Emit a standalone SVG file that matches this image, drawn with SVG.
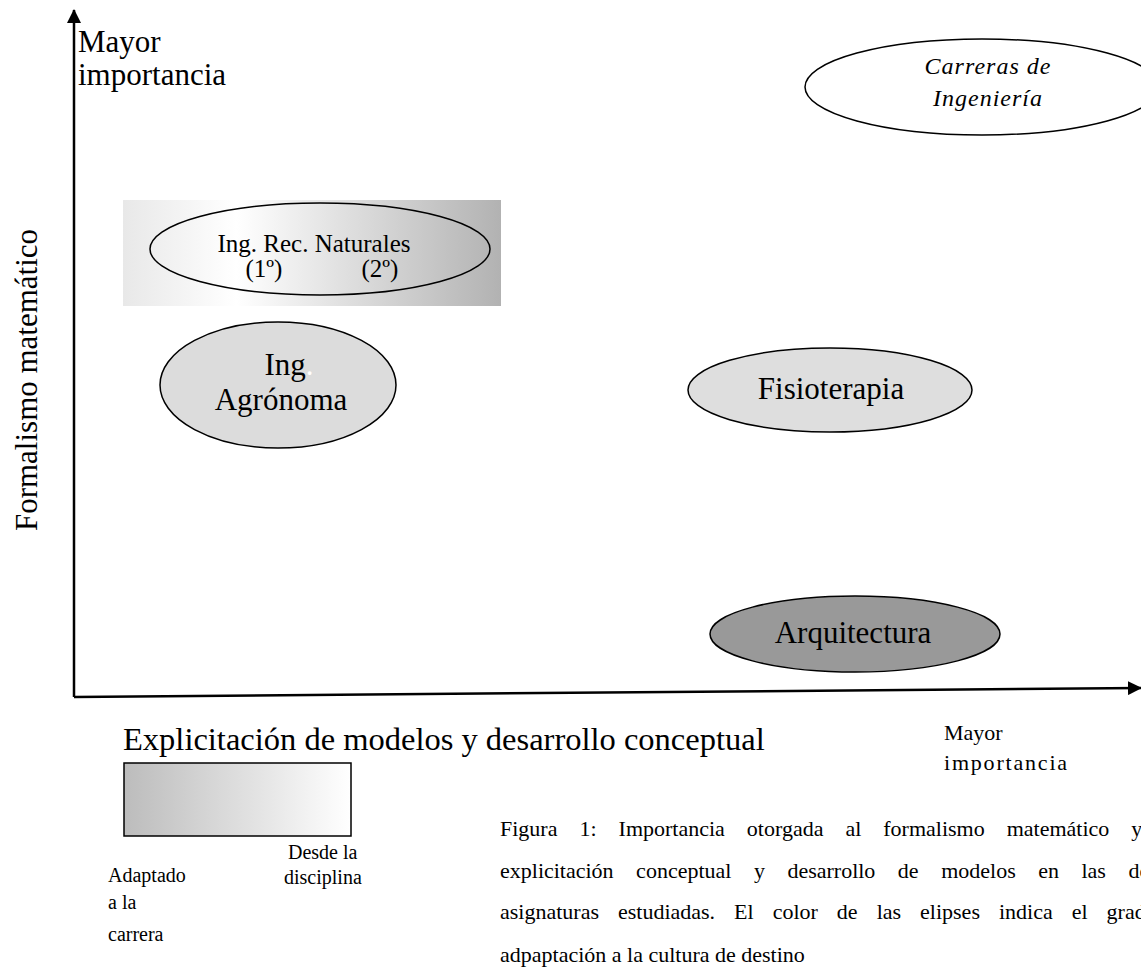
<svg xmlns="http://www.w3.org/2000/svg" width="1141" height="971" viewBox="0 0 1141 971">
<defs>
<style>
text{font-family:"Liberation Serif","Times New Roman",serif;fill:#000}
.ax{stroke:#000;stroke-width:2.5;fill:none}
.el{stroke:#000;stroke-width:1.5}
</style>
<linearGradient id="gNat" x1="0" y1="0" x2="1" y2="0">
<stop offset="0" stop-color="#e8e8e8"/>
<stop offset="0.3" stop-color="#ffffff"/>
<stop offset="1" stop-color="#b2b2b2"/>
</linearGradient>
<linearGradient id="gLeg" x1="0" y1="0" x2="1" y2="0">
<stop offset="0" stop-color="#bcbcbc"/>
<stop offset="1" stop-color="#ffffff"/>
</linearGradient>
<marker id="arr" markerWidth="14" markerHeight="14" refX="13" refY="7" orient="auto" markerUnits="userSpaceOnUse">
<path d="M0,0 L14,7 L0,14 z" fill="#000"/>
</marker>
</defs>
<rect width="1141" height="971" fill="#fff"/>
<g id="connectors">
<line class="ax" x1="74" y1="697" x2="74" y2="10" marker-end="url(#arr)"/>
<line class="ax" x1="74" y1="697" x2="1141" y2="688" marker-end="url(#arr)"/>
</g>
<g id="label-y-top">
<text x="78" y="52" font-size="31">Mayor</text>
<text x="78" y="85" font-size="31">importancia</text>
</g>
<g id="label-y-axis">
<text x="37" y="380" font-size="31" text-anchor="middle" transform="rotate(-90 37 380)">Formalismo matemático</text>
</g>
<g id="node-carreras">
<ellipse class="el" cx="982" cy="87" rx="177" ry="48" fill="#fff"/>
<text x="988" y="74" font-size="24" font-style="italic" letter-spacing="1" text-anchor="middle">Carreras de</text>
<text x="988" y="106" font-size="24" font-style="italic" letter-spacing="1" text-anchor="middle">Ingeniería</text>
</g>
<g id="node-naturales">
<rect x="123" y="200" width="378" height="106" fill="url(#gNat)"/>
<ellipse class="el" cx="320" cy="249" rx="170" ry="46" fill="none"/>
<text x="314" y="252" font-size="25" text-anchor="middle">Ing. Rec. Naturales</text>
<text x="264" y="277" font-size="25" text-anchor="middle">(1º)</text>
<text x="380" y="277" font-size="25" text-anchor="middle">(2º)</text>
</g>
<g id="node-agronoma">
<ellipse class="el" cx="278" cy="385" rx="118" ry="63" fill="#dcdcdc"/>
<text x="289" y="375" font-size="31" text-anchor="middle">Ing<tspan fill="#fff">.</tspan></text>
<text x="281" y="410" font-size="31" text-anchor="middle">Agrónoma</text>
</g>
<g id="node-fisioterapia">
<ellipse class="el" cx="830" cy="390" rx="142" ry="42" fill="#dedede"/>
<text x="831" y="399" font-size="31" text-anchor="middle">Fisioterapia</text>
</g>
<g id="node-arquitectura">
<ellipse class="el" cx="855" cy="634" rx="145" ry="38" fill="#999999"/>
<text x="853" y="643" font-size="31" text-anchor="middle">Arquitectura</text>
</g>
<g id="label-x-axis">
<text x="123" y="750" font-size="32.5">Explicitación de modelos y desarrollo conceptual</text>
</g>
<g id="label-x-right">
<text x="944" y="740" font-size="22">Mayor</text>
<text x="944" y="770" font-size="22" letter-spacing="1.8">importancia</text>
</g>
<g id="legend">
<rect x="124" y="763" width="227" height="73" fill="url(#gLeg)" stroke="#000" stroke-width="1.5"/>
<text x="108" y="882" font-size="20">Adaptado</text>
<text x="108" y="909" font-size="20">a la</text>
<text x="108" y="941" font-size="20">carrera</text>
<text x="288" y="859" font-size="20">Desde la</text>
<text x="284" y="884" font-size="20">disciplina</text>
</g>
<g id="caption" font-size="22">
<text x="500" y="836" word-spacing="16.5">Figura 1:  Importancia otorgada al formalismo matemático y</text>
<text x="500" y="878" word-spacing="17">explicitación conceptual y desarrollo de modelos en las dos</text>
<text x="500" y="919" word-spacing="13.5">asignaturas estudiadas. El color de las elipses indica el  grado</text>
<text x="500" y="962">adpaptación a la cultura de destino</text>
</g>
</svg>
